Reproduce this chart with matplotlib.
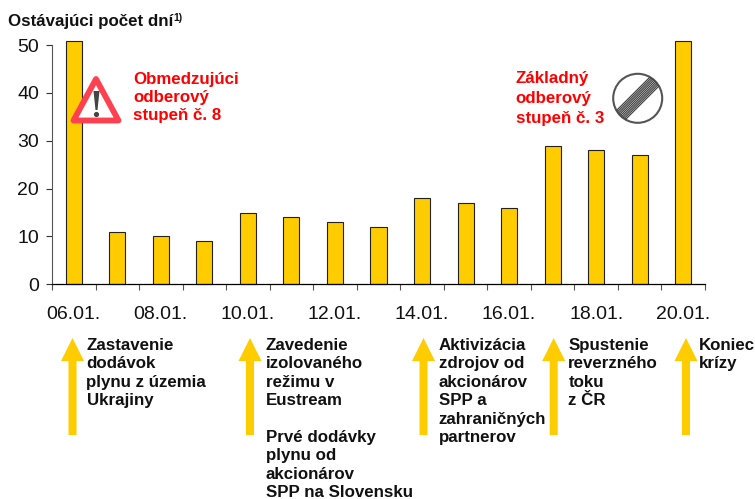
import matplotlib
matplotlib.use('Agg')
import matplotlib.pyplot as plt
from matplotlib.patches import Polygon, Circle

plt.rcParams['font.family'] = ['Liberation Sans', 'DejaVu Sans']

# Values. First and last bars run past the axis top.
days = ['06.01.', '07.01.', '08.01.', '09.01.', '10.01.', '11.01.', '12.01.', '13.01.',
        '14.01.', '15.01.', '16.01.', '17.01.', '18.01.', '19.01.', '20.01.']
remaining = [50.8, 11, 10, 9, 15, 14, 13, 12, 18, 17, 16, 29, 28, 27, 50.8]
y_ticks = [0, 10, 20, 30, 40, 50]

events = [
    ['Zastavenie', 'dodávok', 'plynu z územia', 'Ukrajiny'],
    ['Zavedenie', 'izolovaného', 'režimu v', 'Eustream', '', 'Prvé dodávky', 'plynu od', 'akcionárov',
     'SPP na Slovensku'],
    ['Aktivizácia', 'zdrojov od', 'akcionárov', 'SPP a', 'zahraničných', 'partnerov'],
    ['Spustenie', 'reverzného', 'toku', 'z ČR'],
    ['Koniec', 'krízy'],
]
arrow_x = [72.5, 250, 423.5, 553.7, 686]
event_x = [86.5, 265.5, 438.7, 568.3, 699.3]

YELLOW = '#FFCC00'
RED = '#FF0000'
FS = 12.2

fig = plt.figure(figsize=(7.55, 4.99), dpi=100)

# Main chart
ax = fig.add_axes([52 / 755, (499 - 284.3) / 499, 653 / 755, 239.3 / 499])
x = list(range(len(days)))
ax.bar(x, remaining, width=0.37, color=YELLOW, edgecolor='#222222', linewidth=0.8, clip_on=False)
ax.set_xlim(-0.5, 14.5)
ax.set_ylim(0, 50)
ax.spines['top'].set_visible(False)
ax.spines['right'].set_visible(False)
ax.spines['left'].set_color('#555555')
ax.spines['bottom'].set_linewidth(0.9)

ax.set_yticks(y_ticks)
ax.tick_params(axis='y', length=4.3, width=0.8, color='#333333', labelsize=14, pad=5, labelcolor='#111111')

# Ticks sit between the bars, labels under every other bar
ax.set_xticks([i - 0.5 for i in range(len(days) + 1)])
ax.set_xticklabels([])
ax.set_xticks(x[::2], labels=days[::2], minor=True)
ax.tick_params(axis='x', which='major', length=4, width=0.8, color='#555555')
ax.tick_params(axis='x', which='minor', length=0, labelsize=14, pad=15.5, labelcolor='#111111')

# Overlay in pixel coordinates for the notes and signs
ov = fig.add_axes([0, 0, 1, 1], zorder=5)
ov.set_xlim(0, 755)
ov.set_ylim(499, 0)
ov.axis('off')
ov.patch.set_alpha(0)

ov.text(8, 26, 'Ostávajúci počet dní', fontsize=FS, fontweight='bold', color='#111111')
ov.text(173.5, 21, '1)', fontsize=7.5, fontweight='bold', color='#111111')

# Event arrows and their text
for ax_x, tx, lines in zip(arrow_x, event_x, events):
    ov.add_patch(Polygon([(ax_x, 338), (ax_x + 11.5, 361), (ax_x + 4, 361), (ax_x + 4, 435),
                          (ax_x - 4, 435), (ax_x - 4, 361), (ax_x - 11.5, 361)],
                         closed=True, facecolor=YELLOW, edgecolor='none'))
    for i, line in enumerate(lines):
        ov.text(tx, 350 + i * 18.4, line, fontsize=FS, fontweight='bold', color='#111111')

# Red notes
for i, line in enumerate(['Obmedzujúci', 'odberový', 'stupeň č. 8']):
    ov.text(133, 83.5 + i * 18.4, line, fontsize=FS, fontweight='bold', color=RED)
for i, line in enumerate(['Základný', 'odberový', 'stupeň č. 3']):
    ov.text(515.5, 82.5 + i * 20.3, line, fontsize=FS, fontweight='bold', color=RED)

# Warning triangle
ov.add_patch(Polygon([(96, 79), (118.5, 120.5), (73.5, 120.5)], closed=True, facecolor='white',
                     edgecolor='#FF4050', linewidth=4.2, joinstyle='round'))
ov.add_patch(Polygon([(93.5, 91), (99.5, 91), (97.5, 110), (95.5, 110)], closed=True, facecolor='#444444',
                     edgecolor='none'))
ov.add_patch(Circle((96.5, 114.5), 2.6, facecolor='#444444', edgecolor='none'))

# End of restriction sign
ring = Circle((637.7, 98.3), 24.5, facecolor='white', edgecolor='#555555', linewidth=1.5)
ov.add_patch(ring)
for off in [-6.4, -4.8, -3.2, -1.6, 0, 1.6, 3.2, 4.8, 6.4]:
    line, = ov.plot([612 + off * 0.7, 664 + off * 0.7], [124 + off * 0.7, 72 + off * 0.7],
                    color='#444444', linewidth=0.9, solid_capstyle='butt')
    line.set_clip_path(ring)

fig.savefig('out.png', dpi=100)
